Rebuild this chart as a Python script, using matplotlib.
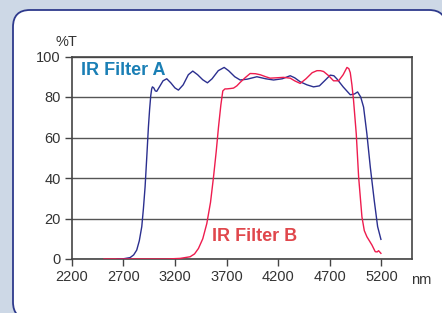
import numpy as np
import matplotlib.pyplot as plt
from matplotlib.patches import FancyBboxPatch

plt.rcParams['font.family'] = ['Liberation Sans', 'DejaVu Sans']

# Кривая пропускания фильтра A (нм, %T)
wl_a = [2640, 2700, 2766, 2800, 2830, 2855, 2879, 2895, 2911, 2927, 2943, 2955, 2966, 2975, 2982,
        2995, 3010, 3024, 3050, 3085, 3121, 3160, 3200, 3234, 3280, 3330, 3373, 3420, 3470, 3515,
        3560, 3620, 3677, 3720, 3780, 3832, 3900, 3994, 4080, 4156, 4240, 4317, 4360, 4414, 4480,
        4543, 4600, 4660, 4705, 4740, 4770, 4830, 4899, 4940, 4970, 5000, 5028, 5060, 5093, 5131,
        5164, 5196]
t_a = [0, 0.1, 0.7, 2, 4.4, 9, 16, 25, 35.6, 50, 65, 74, 80.7, 84, 85,
       84.5, 83, 82.8, 85, 88, 89, 87, 84.5, 83.4, 86, 91, 92.8, 91, 88.5, 87,
       89, 93, 94.6, 93, 90, 88.4, 88.8, 90, 89, 88.4, 89, 90.5, 89.5, 87.5, 86,
       85, 85.5, 88.5, 90.8, 90.5, 88.9, 85, 81.1, 81.5, 82.5, 80, 75, 61.8, 45.4, 29,
       16, 9.7]

# Кривая пропускания фильтра B (нм, %T)
wl_b = [2513, 2700, 2900, 3121, 3250, 3347, 3390, 3428, 3470, 3509, 3545, 3574, 3600, 3622, 3645,
        3664, 3685, 3703, 3740, 3768, 3800, 3832, 3880, 3929, 3980, 4026, 4080, 4123, 4190, 4252,
        4317, 4360, 4414, 4470, 4530, 4576, 4610, 4640, 4690, 4737, 4786, 4830, 4867, 4885, 4899,
        4915, 4931, 4957, 4980, 5012, 5035, 5060, 5090, 5109, 5141, 5160, 5173, 5196]
t_b = [0, 0, 0, 0, 0.3, 1.1, 2.5, 5.2, 10, 17.5, 28, 40.5, 53, 65, 76,
       83, 84, 84, 84.2, 84.4, 85.5, 87.2, 89.5, 91.6, 91.5, 91, 90, 89.3, 89.5, 89.7,
       89.3, 88, 86.7, 89, 92, 93, 93, 92.6, 90.5, 88, 88, 91, 94.6, 94, 92,
       86, 78.2, 61.8, 40.5, 20.8, 14, 11, 8.5, 6.9, 3.6, 3.5, 4.1, 2.8]

x_ticks = [2200, 2700, 3200, 3700, 4200, 4700, 5200]
y_ticks = [0, 20, 40, 60, 80, 100]

fig = plt.figure(figsize=(4.42, 3.13), dpi=100)
fig.patch.set_facecolor('#cdd8e6')

# Белая рамка со скруглёнными углами (в пикселях, начало координат снизу)
box = FancyBboxPatch((13, -6), 433, 309,
                     boxstyle='round,pad=0,rounding_size=17',
                     transform=None, facecolor='white',
                     edgecolor='#2e3a8c', linewidth=1.3, zorder=-1)
fig.patches.append(box)

ax = fig.add_axes([71.7 / 442, 1 - 259 / 313, (412.3 - 71.7) / 442, (259 - 56.5) / 313])
ax.set_zorder(2)
ax.set_facecolor('white')

ax.plot(wl_a, t_a, color='#2b2f8f', linewidth=1.0, zorder=3)
ax.plot(wl_b, t_b, color='#ee1c4e', linewidth=1.0, zorder=3)

ax.set_xlim(2200, 5500)
ax.set_ylim(0, 100)
ax.set_xticks(x_ticks)
ax.set_yticks(y_ticks)
ax.tick_params(axis='both', direction='out', length=5, width=1, color='#444444',
               labelsize=10.5, labelcolor='#333333', pad=3)
for s in ax.spines.values():
    s.set_color('#444444')
    s.set_linewidth(1.2)
ax.grid(True, axis='y', color='#555555', linewidth=1.0)
ax.set_axisbelow(True)

ax.text(2290, 93.3, 'IR Filter A', color='#1a7fb5', fontsize=13, fontweight='bold',
        va='center', ha='left')
ax.text(3555, 10.9, 'IR Filter B', color='#e0474c', fontsize=13, fontweight='bold',
        va='center', ha='left')

fig.text(66 / 442, 1 - 42 / 313, '%T', fontsize=10.5, color='#333333', ha='center', va='center')
fig.text(421 / 442, 1 - 280 / 313, 'nm', fontsize=10.5, color='#333333', ha='center', va='center')

plt.savefig('out.png', dpi=100, facecolor=fig.get_facecolor())
